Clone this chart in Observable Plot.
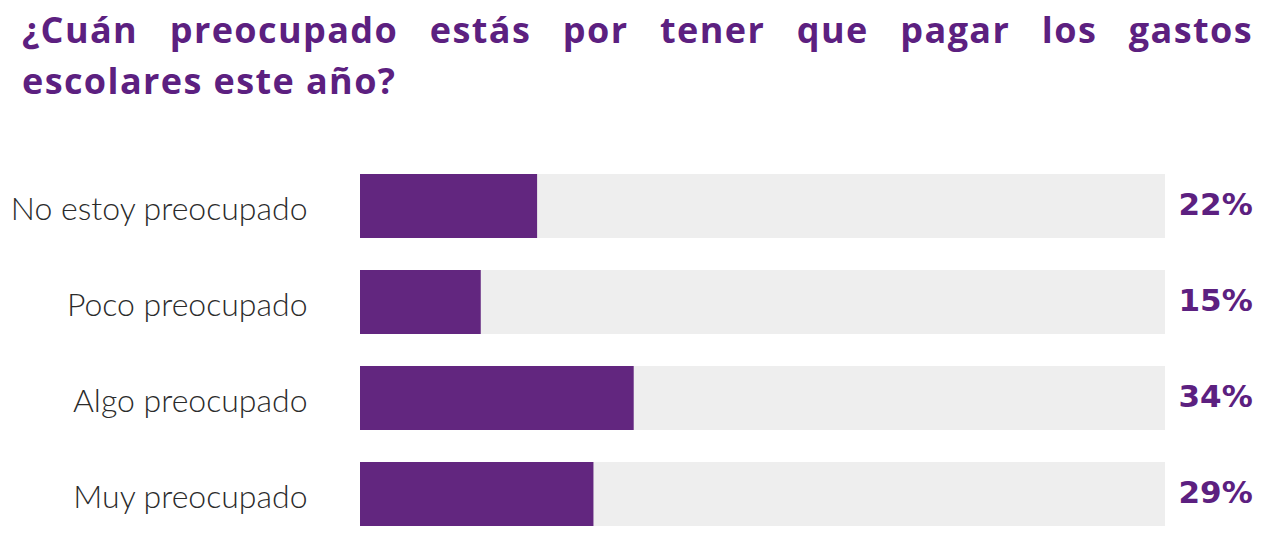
<!DOCTYPE html>
<html>
<head>
<meta charset="utf-8">
<script src="https://cdn.jsdelivr.net/npm/d3@7"></script>
<script src="https://cdn.jsdelivr.net/npm/@observablehq/plot@0.6"></script>
<style>
  html, body { margin: 0; padding: 0; background: #ffffff; }
  body { width: 1280px; height: 544px; overflow: hidden; }
  #title {
    font-family: "Open Sans", "Lato", sans-serif;
    font-weight: bold;
    font-size: 36px;
    letter-spacing: 1.4px;
    line-height: 51px;
    color: #5c2080;
    margin: 0;
    padding: 4px 27px 0 22px;
    width: 1280px;
    height: 108px;
    box-sizing: border-box;
    overflow: hidden;
  }
  #title .l1 { text-align: justify; text-align-last: justify; }
  #title .l2 { text-align: left; }
  #chart svg { display: block; }
</style>
</head>
<body>
<div id="title"><div class="l1">¿Cuán preocupado estás por tener que pagar los gastos</div><div class="l2">escolares este año?</div></div>
<div id="chart"></div>
<script>
const categories = ["No estoy preocupado", "Poco preocupado", "Algo preocupado", "Muy preocupado"];
const values = [22, 15, 34, 29];
const valueLabels = ["22%", "15%", "34%", "29%"];

const data = categories.map((c, i) => ({category: c, value: values[i], label: valueLabels[i], full: 100}));

const plot = Plot.plot({
  width: 1280,
  height: 436,
  marginLeft: 360,
  marginRight: 115,
  marginTop: 65,
  marginBottom: 17,
  style: {background: "transparent", overflow: "visible"},
  x: {domain: [0, 100], axis: null},
  y: {domain: categories, paddingInner: 0.333, paddingOuter: 0, axis: null},
  marks: [
    Plot.barX(data, {y: "category", x: "full", fill: "#eeeeee"}),
    Plot.barX(data, {y: "category", x: "value", fill: "#62267f"}),
    Plot.text(data, {
      y: "category", x: 0, text: "category", textAnchor: "end", dx: -53, dy: 3,
      fill: "#2b2b2b", fontSize: 32, fontFamily: "Lato, 'Open Sans', sans-serif", fontWeight: 300
    }),
    Plot.text(data, {
      y: "category", x: "full", text: "label", textAnchor: "start", dx: 13, dy: -1,
      fill: "#5c2080", fontSize: 31, fontFamily: "'DejaVu Sans', sans-serif", fontWeight: "bold"
    })
  ]
});
document.getElementById("chart").appendChild(plot);
</script>
</body>
</html>
